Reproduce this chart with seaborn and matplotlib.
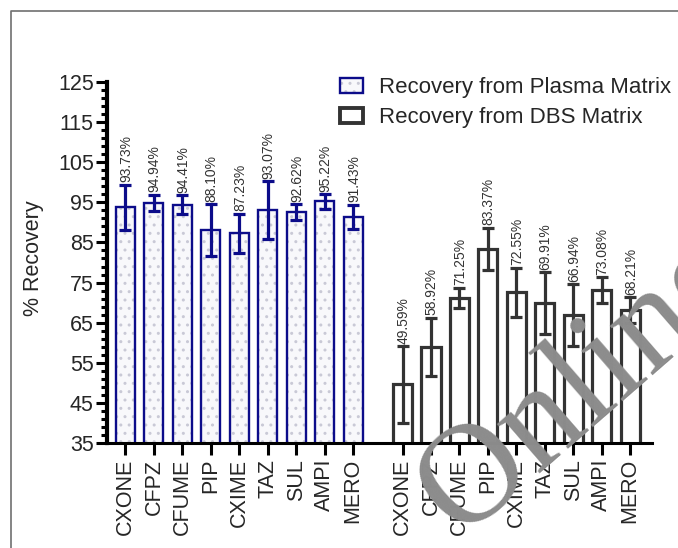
import matplotlib
matplotlib.use("Agg")
import matplotlib.pyplot as plt
from matplotlib.patches import Patch
from matplotlib.lines import Line2D
import numpy as np
import pandas as pd
import seaborn as sns

# ---------------- data ----------------
drugs = ["CXONE", "CFPZ", "CFUME", "PIP", "CXIME", "TAZ", "SUL", "AMPI", "MERO"]
plasma_mean = [93.73, 94.94, 94.41, 88.10, 87.23, 93.07, 92.62, 95.22, 91.43]
plasma_sd = [5.7, 2.0, 2.3, 6.5, 4.9, 7.2, 1.9, 1.8, 3.0]
dbs_mean = [49.59, 58.92, 71.25, 83.37, 72.55, 69.91, 66.94, 73.08, 68.21]
dbs_sd = [9.6, 7.3, 2.5, 5.3, 6.2, 7.7, 7.7, 3.2, 3.2]
series_labels = ["Recovery from Plasma Matrix", "Recovery from DBS Matrix"]
y_label = "% Recovery"
y_ticks = [35, 45, 55, 65, 75, 85, 95, 105, 115, 125]
watermark = "Online"

# ---------------- style ----------------
sns.set_style("white")
plt.rcParams["font.family"] = ["Liberation Sans", "DejaVu Sans"]
plt.rcParams["hatch.linewidth"] = 1.0

navy = "#0c0c8a"
dark = "#333333"
dot_col = "#c9c9d6"
fill_col = "#f8f8fb"

group_gap = 1.74
pos_plasma = np.arange(len(drugs), dtype=float)
pos_dbs = pos_plasma + len(drugs) - 1 + group_gap

df = pd.DataFrame({
    "pos": np.concatenate([pos_plasma, pos_dbs]),
    "value": plasma_mean + dbs_mean,
    "sd": plasma_sd + dbs_sd,
    "drug": drugs + drugs,
    "matrix": ["Plasma"] * len(drugs) + ["DBS"] * len(drugs),
})
dp = df[df.matrix == "Plasma"]
dd = df[df.matrix == "DBS"]

W, H = 678, 548
fig = plt.figure(figsize=(W / 100, H / 100), dpi=100)
ax = fig.add_axes([107 / W, 1 - 443 / H, (652 - 107) / W, (443 - 82) / H])

bw = 0.67
# plasma: dotted light fill layer
n0 = len(ax.patches)
sns.barplot(data=dp, x="pos", y="value", native_scale=True, color=fill_col,
            saturation=1, width=bw, linewidth=0, errorbar=None, ax=ax)
for p in ax.patches[n0:]:
    p.set_edgecolor(dot_col)
    p.set_linewidth(0)
    p.set_hatch("..")
# plasma outline
sns.barplot(data=dp, x="pos", y="value", native_scale=True, color=navy,
            saturation=1, width=bw, fill=False, linewidth=1.7, errorbar=None, ax=ax)
# dbs outline
sns.barplot(data=dd, x="pos", y="value", native_scale=True, color=dark,
            saturation=1, width=bw, fill=False, linewidth=2.3, errorbar=None, ax=ax)

ax.errorbar(dp.pos, dp.value, yerr=dp.sd, fmt="none", ecolor=navy,
            elinewidth=2.3, capsize=4.6, capthick=2.3, zorder=5)
ax.errorbar(dd.pos, dd.value, yerr=dd.sd, fmt="none", ecolor=dark,
            elinewidth=2.3, capsize=4.6, capthick=2.3, zorder=5)

for _, r in df.iterrows():
    ax.text(r.pos + 0.03, r.value + r.sd + 0.6, f"{r.value:.2f}%", rotation=90,
            ha="center", va="bottom", fontsize=10, color="#333333")

ax.set_ylim(35, 125)
ax.set_xlim(-0.65, 18.51)
ax.set_yticks(y_ticks)
ax.set_yticks(np.arange(35, 126, 2), minor=True)
ax.set_xticks(df.pos)
ax.set_xticklabels(df.drug, rotation=90, fontsize=15.5)
ax.tick_params(axis="y", which="major", direction="out", length=8, width=2.2,
               labelsize=15.5, pad=1.5, left=True, color="black")
ax.tick_params(axis="y", which="minor", direction="out", length=4, width=2.2,
               left=True, color="black")
ax.tick_params(axis="x", which="major", direction="out", length=8.5, width=2.2,
               pad=3, bottom=True, color="black")
ax.set_xlabel("")
ax.set_ylabel("")
for s in ["top", "right"]:
    ax.spines[s].set_visible(False)
ax.spines["left"].set_linewidth(3)
ax.spines["bottom"].set_linewidth(2.2)
ax.spines["left"].set_color("black")
ax.spines["bottom"].set_color("black")

fig.text(33.5 / W, 1 - 258.5 / H, y_label, rotation=90, ha="center", va="center",
         fontsize=15.5)

# legend
h_plasma = (Patch(facecolor=fill_col, edgecolor=dot_col, hatch="..", linewidth=0),
            Patch(facecolor="none", edgecolor=navy, linewidth=1.7))
h_dbs = Patch(facecolor="white", edgecolor=dark, linewidth=2.8)
fig.legend([h_plasma, h_dbs], series_labels, loc="upper left",
           bbox_to_anchor=(340 / W, 1 - 77 / H), frameon=False, fontsize=16,
           borderpad=0, borderaxespad=0, handlelength=1.05, handleheight=0.68,
           handletextpad=0.72, labelspacing=0.42)

# figure border
fig.add_artist(Line2D([11 / W, 11 / W, 1.01], [-0.01, 1 - 11 / H, 1 - 11 / H],
                      transform=fig.transFigure, color="#707070", lw=1.2))

# watermark
fig.text(460 / W, 1 - 538 / H, watermark, rotation=41, rotation_mode="anchor",
         ha="left", va="baseline", fontsize=102, color="#8c8c8c",
         family=["Liberation Serif", "DejaVu Serif"], zorder=20)

fig.savefig("out.png", dpi=100)
